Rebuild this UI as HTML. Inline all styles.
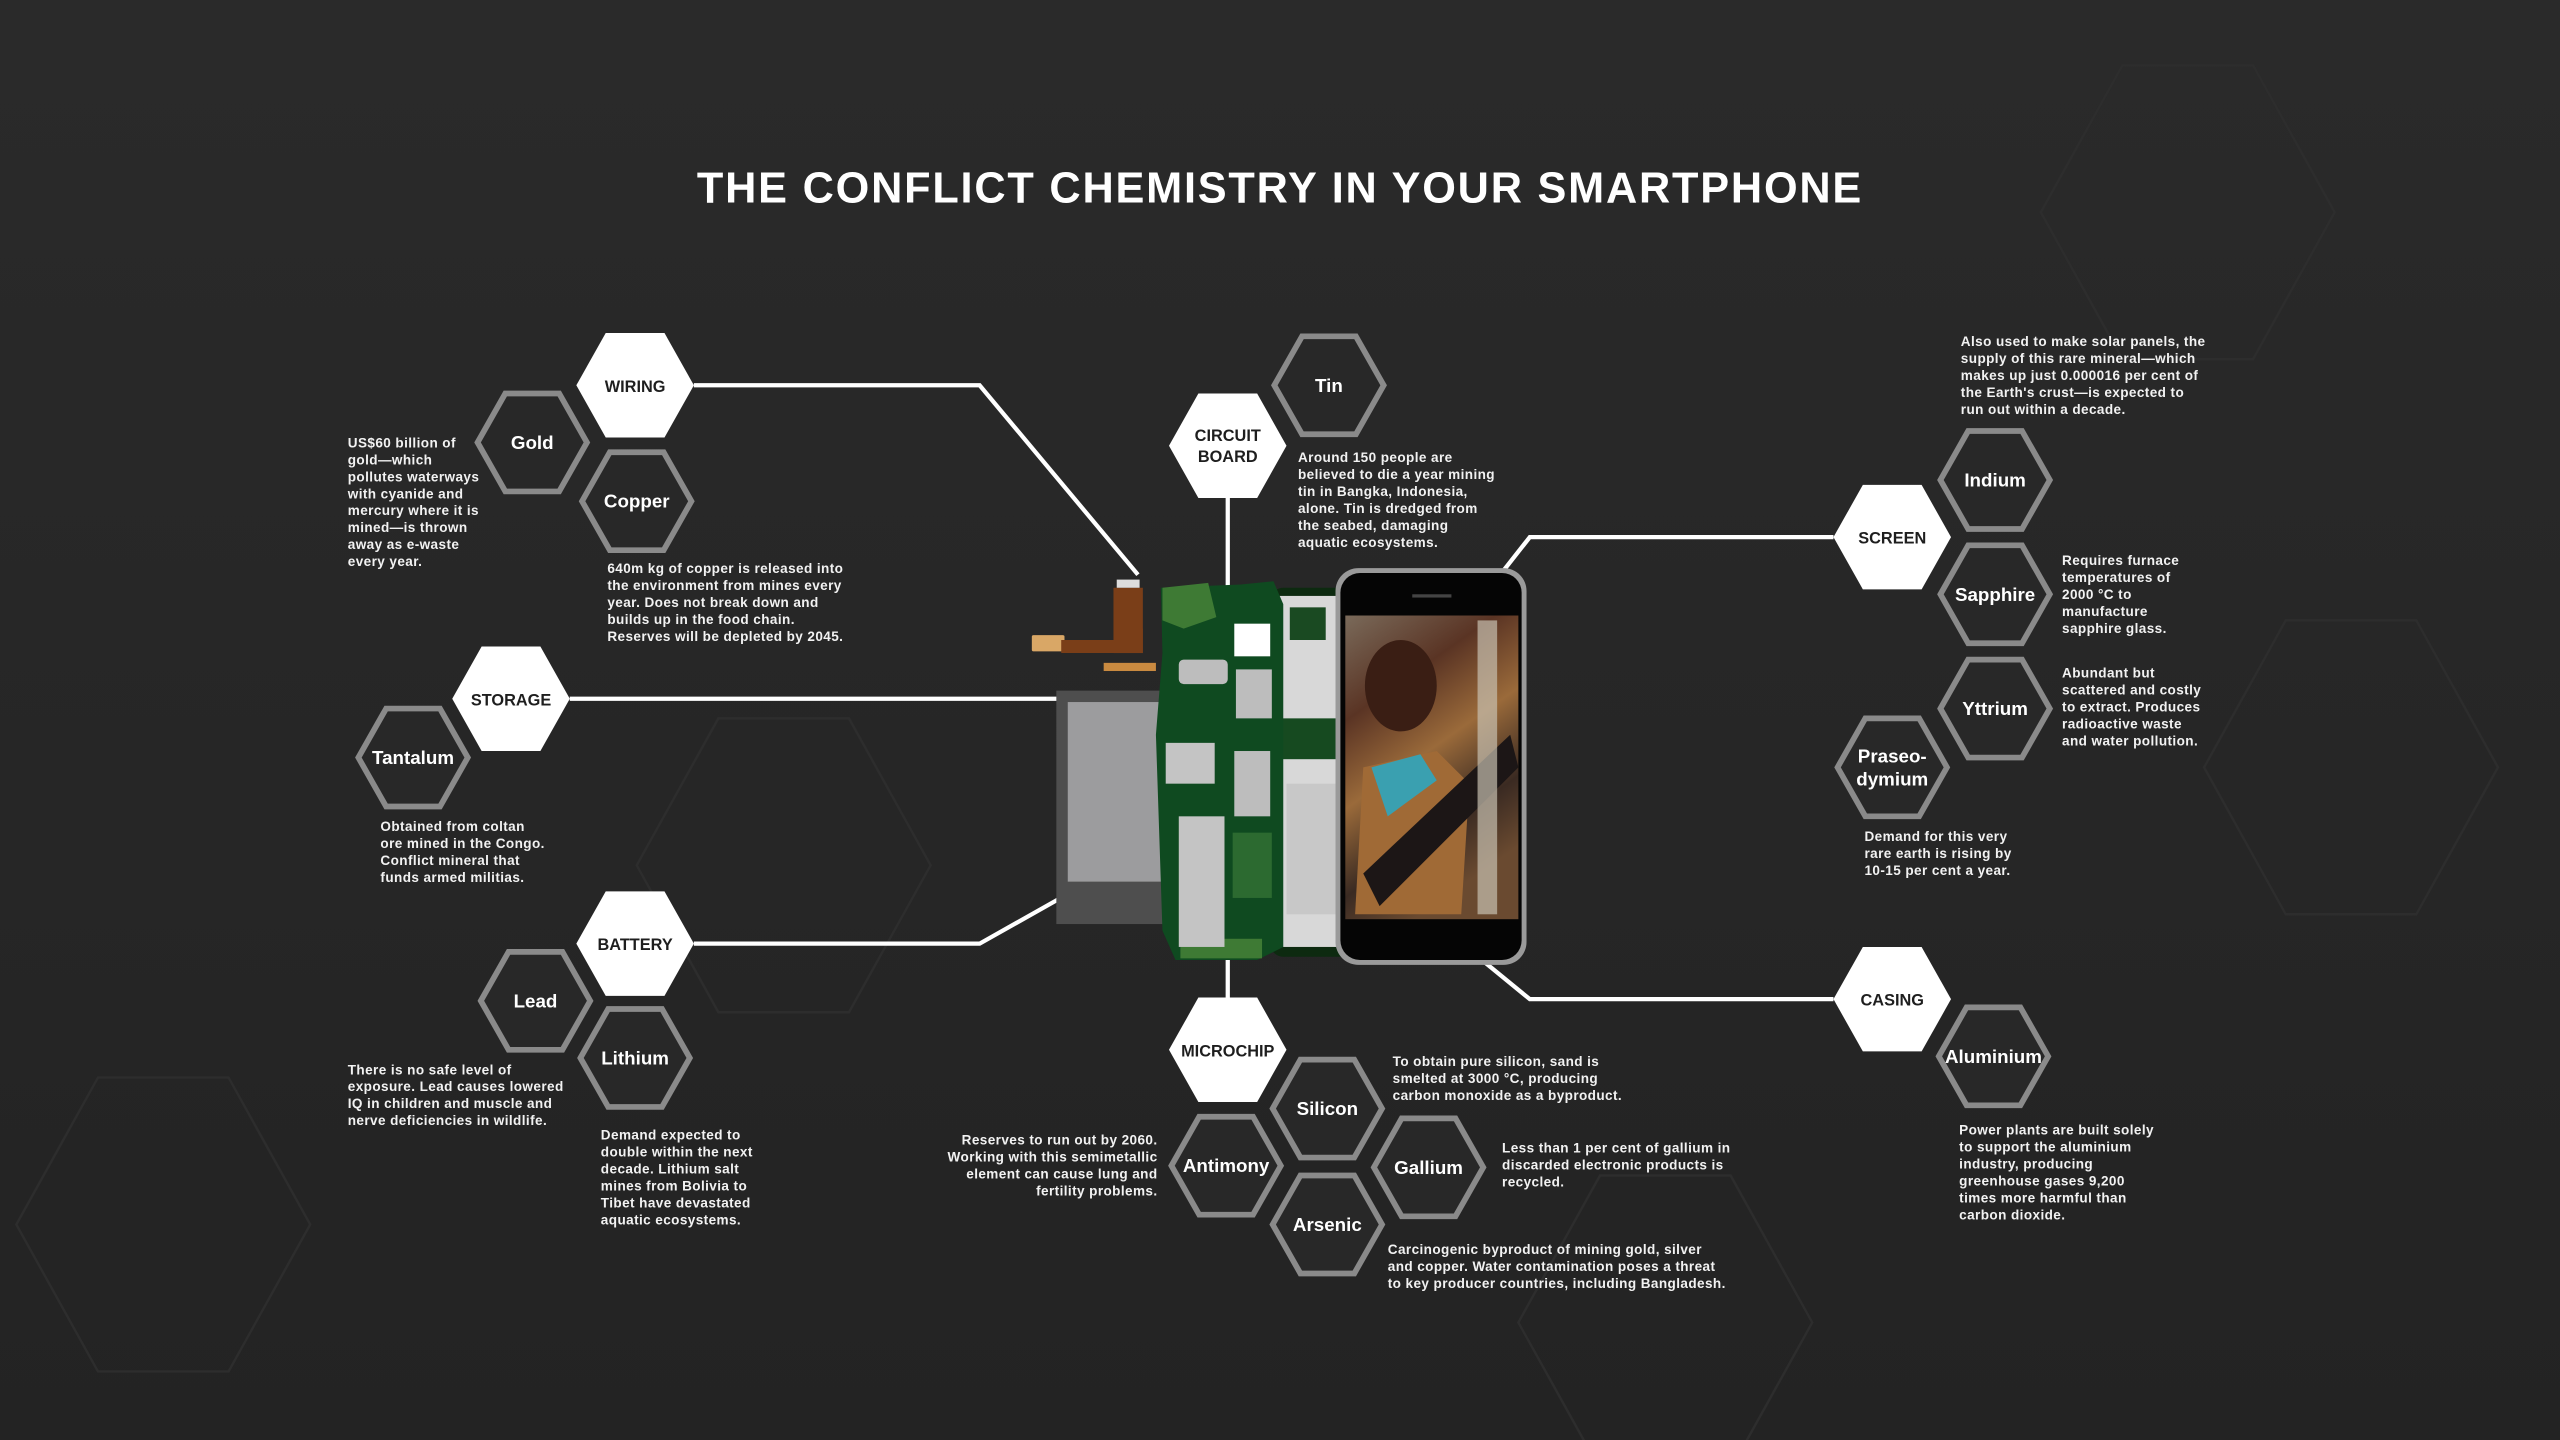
<!DOCTYPE html>
<html><head><meta charset="utf-8"><style>
html,body{margin:0;padding:0;background:#272727;}
svg{display:block;}
text{font-family:"Liberation Sans",sans-serif;}
.b{fill:#f2f2f2;font-size:8.3px;font-weight:bold;letter-spacing:0.25px;}
.hl{fill:#fff;font-size:11.5px;font-weight:bold;text-anchor:middle;}
.wl{fill:#1e1e1e;font-size:10px;font-weight:bold;text-anchor:middle;}
</style></head><body>
<svg width="2560" height="1440" viewBox="0 0 1568 882" xmlns="http://www.w3.org/2000/svg">
<defs>
<polygon id="h" points="-36,0 -18,-32 18,-32 36,0 18,32 -18,32"/>
<polygon id="o" points="-33.5,0 -16.5,-30 16.5,-30 33.5,0 16.5,30 -16.5,30"/>
<linearGradient id="bg" x1="0" y1="0" x2="0" y2="1"><stop offset="0" stop-color="#2a2a2a"/><stop offset="1" stop-color="#232323"/></linearGradient>
<linearGradient id="ph" x1="0" y1="0" x2="0.4" y2="1"><stop offset="0" stop-color="#7a6a5a"/><stop offset="0.3" stop-color="#5a3424"/><stop offset="0.55" stop-color="#9a6a3a"/><stop offset="0.8" stop-color="#3a2a22"/><stop offset="1" stop-color="#6a4a30"/></linearGradient>
</defs>
<rect width="1568" height="882" fill="url(#bg)"/>
<g fill="none" stroke="#2d2d2d" stroke-width="1.5">
<polygon points="1300,40 1380,40 1430,130 1380,220 1300,220 1250,130"/>
<polygon points="60,660 140,660 190,750 140,840 60,840 10,750"/>
<polygon points="440,440 520,440 570,530 520,620 440,620 390,530"/>
<polygon points="980,720 1060,720 1110,810 1060,900 980,900 930,810"/>
<polygon points="1400,380 1480,380 1530,470 1480,560 1400,560 1350,470"/>
</g>
<text x="784" y="124" text-anchor="middle" fill="#fff" font-size="26.5" font-weight="bold" letter-spacing="1.1">THE CONFLICT CHEMISTRY IN YOUR SMARTPHONE</text>

<g fill="none" stroke="#fff" stroke-width="2.6">
<polyline points="425,236 600,236 697,352"/>
<polyline points="752,305 752,372"/>
<polyline points="349,428 740,428 770,476"/>
<polyline points="425,578 600,578 655,547"/>
<polyline points="1123,329 937,329 893,385"/>
<polyline points="752,611 752,540 763,520"/>
<polyline points="1123,612 937,612 893,576"/>
</g>

<g>
<rect x="632" y="389" width="20" height="10" fill="#d9a766" rx="1"/>
<polygon points="650,392 690,392 690,385 700,385 700,400 650,400" fill="#7a3e18"/>
<rect x="682" y="360" width="18" height="40" fill="#7a3e18"/>
<rect x="684" y="355" width="14" height="5" fill="#ddd"/>
<rect x="676" y="406" width="32" height="5" fill="#c98a40"/>
<rect x="647" y="423" width="66" height="143" fill="#4e4e4e"/>
<rect x="654" y="430" width="58" height="110" fill="#9c9c9e"/>
<rect x="778" y="360" width="58" height="226" rx="8" fill="#0d2a10"/>
<rect x="782" y="365" width="40" height="215" fill="#d8d8d8"/>
<rect x="790" y="372" width="22" height="20" fill="#1a4a22"/>
<rect x="784" y="440" width="40" height="25" fill="#164a20"/>
<rect x="788" y="480" width="30" height="80" fill="#c8c8c8"/>
<path d="M711,360 L760,358 L780,356 L786,370 L786,580 L770,588 L720,588 L712,570 L708,450 L712,400 Z" fill="#0f4a20"/>
<path d="M712,360 L740,357 L745,378 L725,385 L712,380 Z" fill="#3e7a34"/>
<rect x="723" y="575" width="50" height="12" fill="#3e7a34"/>
<rect x="756" y="382" width="22" height="20" fill="#fff"/>
<rect x="722" y="404" width="30" height="15" rx="3" fill="#bdbdbd"/>
<rect x="757" y="410" width="22" height="30" fill="#bdbdbd"/>
<rect x="714" y="455" width="30" height="25" fill="#c4c4c4"/>
<rect x="756" y="460" width="22" height="40" fill="#bdbdbd"/>
<rect x="722" y="500" width="28" height="80" fill="#c4c4c4"/>
<rect x="755" y="510" width="24" height="40" fill="#2c6a30"/>
<rect x="818" y="348" width="117" height="243" rx="14" fill="#9a9a9a"/>
<rect x="821" y="351" width="111" height="237" rx="12" fill="#050505"/>
<rect x="865" y="364" width="24" height="2" fill="#444"/>
<rect x="824" y="377" width="106" height="186" fill="url(#ph)"/>
<ellipse cx="858" cy="420" rx="22" ry="28" fill="#3a1e14"/>
<polygon points="835,470 880,460 900,480 895,560 830,560" fill="#a06a36"/>
<polygon points="840,470 870,462 880,478 850,500" fill="#3aa0b0"/>
<polygon points="835,535 925,450 930,470 845,555" fill="#1c1616"/>
<rect x="905" y="380" width="12" height="180" fill="#c8c0b0" opacity="0.7"/>
</g>

<g fill="#fff">
<use href="#h" x="389" y="236"/><use href="#h" x="752" y="273"/><use href="#h" x="313" y="428"/>
<use href="#h" x="389" y="578"/><use href="#h" x="1159" y="329"/><use href="#h" x="752" y="643"/>
<use href="#h" x="1159" y="612"/>
</g>
<text class="wl" x="389" y="240">WIRING</text>
<text class="wl" x="752" y="270">CIRCUIT</text><text class="wl" x="752" y="283">BOARD</text>
<text class="wl" x="313" y="432">STORAGE</text>
<text class="wl" x="389" y="582">BATTERY</text>
<text class="wl" x="1159" y="333">SCREEN</text>
<text class="wl" x="752" y="647">MICROCHIP</text>
<text class="wl" x="1159" y="616">CASING</text>

<g fill="#282828" stroke="#8a8a8a" stroke-width="3.5">
<use href="#o" x="326" y="271"/><use href="#o" x="390" y="307"/><use href="#o" x="814" y="236"/>
<use href="#o" x="253" y="464"/><use href="#o" x="328" y="613"/><use href="#o" x="389" y="648"/>
<use href="#o" x="1222" y="294"/><use href="#o" x="1222" y="364"/><use href="#o" x="1222" y="434"/>
<use href="#o" x="1159" y="470"/><use href="#o" x="1221" y="647"/>
<use href="#o" x="813" y="679"/><use href="#o" x="751" y="714"/><use href="#o" x="875" y="715"/><use href="#o" x="813" y="750"/>
</g>
<text class="hl" x="326" y="275">Gold</text>
<text class="hl" x="390" y="311">Copper</text>
<text class="hl" x="814" y="240">Tin</text>
<text class="hl" x="253" y="468">Tantalum</text>
<text class="hl" x="328" y="617">Lead</text>
<text class="hl" x="389" y="652">Lithium</text>
<text class="hl" x="1222" y="298">Indium</text>
<text class="hl" x="1222" y="368">Sapphire</text>
<text class="hl" x="1222" y="438">Yttrium</text>
<text class="hl" x="1159" y="467">Praseo-</text><text class="hl" x="1159" y="481">dymium</text>
<text class="hl" x="1221" y="651">Aluminium</text>
<text class="hl" x="813" y="683">Silicon</text>
<text class="hl" x="751" y="718">Antimony</text>
<text class="hl" x="875" y="719">Gallium</text>
<text class="hl" x="813" y="754">Arsenic</text>

<g class="b">
<text x="213" y="274"><tspan x="213">US$60 billion of</tspan><tspan x="213" dy="10.4">gold—which</tspan><tspan x="213" dy="10.4">pollutes waterways</tspan><tspan x="213" dy="10.4">with cyanide and</tspan><tspan x="213" dy="10.4">mercury where it is</tspan><tspan x="213" dy="10.4">mined—is thrown</tspan><tspan x="213" dy="10.4">away as e-waste</tspan><tspan x="213" dy="10.4">every year.</tspan></text>
<text x="372" y="351"><tspan x="372">640m kg of copper is released into</tspan><tspan x="372" dy="10.4">the environment from mines every</tspan><tspan x="372" dy="10.4">year. Does not break down and</tspan><tspan x="372" dy="10.4">builds up in the food chain.</tspan><tspan x="372" dy="10.4">Reserves will be depleted by 2045.</tspan></text>
<text x="795" y="283"><tspan x="795">Around 150 people are</tspan><tspan x="795" dy="10.4">believed to die a year mining</tspan><tspan x="795" dy="10.4">tin in Bangka, Indonesia,</tspan><tspan x="795" dy="10.4">alone. Tin is dredged from</tspan><tspan x="795" dy="10.4">the seabed, damaging</tspan><tspan x="795" dy="10.4">aquatic ecosystems.</tspan></text>
<text x="233" y="509"><tspan x="233">Obtained from coltan</tspan><tspan x="233" dy="10.4">ore mined in the Congo.</tspan><tspan x="233" dy="10.4">Conflict mineral that</tspan><tspan x="233" dy="10.4">funds armed militias.</tspan></text>
<text x="213" y="658"><tspan x="213">There is no safe level of</tspan><tspan x="213" dy="10.4">exposure. Lead causes lowered</tspan><tspan x="213" dy="10.4">IQ in children and muscle and</tspan><tspan x="213" dy="10.4">nerve deficiencies in wildlife.</tspan></text>
<text x="368" y="698"><tspan x="368">Demand expected to</tspan><tspan x="368" dy="10.4">double within the next</tspan><tspan x="368" dy="10.4">decade. Lithium salt</tspan><tspan x="368" dy="10.4">mines from Bolivia to</tspan><tspan x="368" dy="10.4">Tibet have devastated</tspan><tspan x="368" dy="10.4">aquatic ecosystems.</tspan></text>
<text x="709" y="701" text-anchor="end"><tspan x="709">Reserves to run out by 2060.</tspan><tspan x="709" dy="10.4">Working with this semimetallic</tspan><tspan x="709" dy="10.4">element can cause lung and</tspan><tspan x="709" dy="10.4">fertility problems.</tspan></text>
<text x="853" y="653"><tspan x="853">To obtain pure silicon, sand is</tspan><tspan x="853" dy="10.4">smelted at 3000 °C, producing</tspan><tspan x="853" dy="10.4">carbon monoxide as a byproduct.</tspan></text>
<text x="920" y="706"><tspan x="920">Less than 1 per cent of gallium in</tspan><tspan x="920" dy="10.4">discarded electronic products is</tspan><tspan x="920" dy="10.4">recycled.</tspan></text>
<text x="850" y="768"><tspan x="850">Carcinogenic byproduct of mining gold, silver</tspan><tspan x="850" dy="10.4">and copper. Water contamination poses a threat</tspan><tspan x="850" dy="10.4">to key producer countries, including Bangladesh.</tspan></text>
<text x="1201" y="212"><tspan x="1201">Also used to make solar panels, the</tspan><tspan x="1201" dy="10.4">supply of this rare mineral—which</tspan><tspan x="1201" dy="10.4">makes up just 0.000016 per cent of</tspan><tspan x="1201" dy="10.4">the Earth's crust—is expected to</tspan><tspan x="1201" dy="10.4">run out within a decade.</tspan></text>
<text x="1263" y="346"><tspan x="1263">Requires furnace</tspan><tspan x="1263" dy="10.4">temperatures of</tspan><tspan x="1263" dy="10.4">2000 °C to</tspan><tspan x="1263" dy="10.4">manufacture</tspan><tspan x="1263" dy="10.4">sapphire glass.</tspan></text>
<text x="1263" y="415"><tspan x="1263">Abundant but</tspan><tspan x="1263" dy="10.4">scattered and costly</tspan><tspan x="1263" dy="10.4">to extract. Produces</tspan><tspan x="1263" dy="10.4">radioactive waste</tspan><tspan x="1263" dy="10.4">and water pollution.</tspan></text>
<text x="1142" y="515"><tspan x="1142">Demand for this very</tspan><tspan x="1142" dy="10.4">rare earth is rising by</tspan><tspan x="1142" dy="10.4">10-15 per cent a year.</tspan></text>
<text x="1200" y="695"><tspan x="1200">Power plants are built solely</tspan><tspan x="1200" dy="10.4">to support the aluminium</tspan><tspan x="1200" dy="10.4">industry, producing</tspan><tspan x="1200" dy="10.4">greenhouse gases 9,200</tspan><tspan x="1200" dy="10.4">times more harmful than</tspan><tspan x="1200" dy="10.4">carbon dioxide.</tspan></text>
</g>
</svg>
</body></html>
